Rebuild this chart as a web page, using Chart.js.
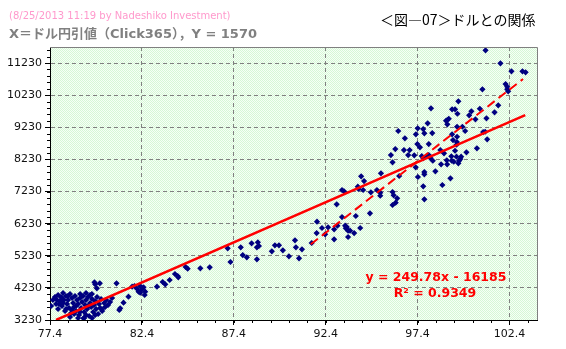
<!DOCTYPE html>
<html>
<head>
<meta charset="utf-8">
<script src="https://cdn.jsdelivr.net/npm/chart.js@4.4.0/dist/chart.umd.min.js"></script>
<style>
  body { margin: 0; background: #fff; }
  #wrap { position: relative; width: 566px; height: 349px; overflow: hidden; }
  #wrap canvas { position: absolute; left: 0; top: 0; }
  .hdr { position: absolute; line-height: 1; white-space: nowrap; }
  #stamp { left: 9px; top: 10px; font: 10px "DejaVu Sans"; color: #ff99cc; }
  #caption { left: 9px; top: 23px; font: bold 13px "DejaVu Sans", "Noto Sans CJK JP"; color: #808080; }
  #fig { left: 380px; top: 9px; font: 14px "Noto Sans CJK JP"; color: #000; }
</style>
</head>
<body>
<div id="wrap">
  <canvas id="grafico" width="566" height="349"></canvas>
  <div class="hdr" id="stamp">(8/25/2013 11:19 by Nadeshiko Investment)</div>
  <div class="hdr" id="caption">X＝ドル円引値（Click365），Y = 1570</div>
  <div class="hdr" id="fig">＜図―07＞ドルとの関係</div>
</div>
<script>
// ejes
const xTicks = [77.4, 82.4, 87.4, 92.4, 97.4, 102.4];
const yTicks = [3230, 4230, 5230, 6230, 7230, 8230, 9230, 10230, 11230];
const xMin = 77.4, xMax = 103.9;
const yMin = 3230, yMax = 11730;

// dolar-yen (x) vs precio (y)
const rateX = [
  77.46, 77.56, 77.67, 77.73, 77.84, 77.84, 77.95, 78.00, 78.05, 78.11, 78.16, 78.22, 78.27, 78.33, 78.38,
  78.44, 78.49, 78.55, 78.60, 78.66, 78.71, 78.76, 78.82, 78.87, 78.93, 78.98, 79.04, 79.09, 79.15, 79.20,
  79.26, 79.31, 79.36, 79.42, 79.47, 79.53, 79.58, 79.64, 79.69, 79.75, 79.80, 79.86, 79.91, 79.96, 80.02,
  80.07, 80.13, 80.18, 80.24, 80.35, 80.40, 80.46, 80.56, 80.67, 80.78, 77.78, 78.11, 78.27, 78.49, 78.71,
  78.93, 79.04, 79.26, 79.36, 79.47, 79.69, 79.86, 78.38, 78.60, 78.82, 79.04, 79.36, 79.58, 77.89, 78.05,
  79.22, 80.22, 79.68, 79.82, 79.86, 80.11, 79.95, 81.02, 81.87, 82.00, 82.13, 82.31, 82.40, 82.49, 82.58,
  82.22, 82.31, 82.55, 81.67, 81.40, 81.22, 81.17, 83.22, 83.53, 83.67, 83.91, 84.20, 84.35, 84.38,
  84.78, 84.89, 85.58, 86.09, 87.07, 87.22, 87.78, 87.89, 88.11, 88.37, 88.66, 88.71, 88.66, 88.77, 89.47,
  89.64, 89.86, 90.07, 90.40, 90.73, 90.78, 90.95, 91.11, 91.64,
  91.93, 92.20, 92.53, 92.86, 93.04, 93.46, 93.50, 93.62, 93.73, 94.28, 91.91, 92.37, 93.62, 93.95, 92.86,
  93.29, 94.04, 94.81, 93.00, 93.55,
  93.29, 93.40, 94.15, 94.19, 94.44, 94.33, 94.49, 94.86, 95.19, 95.37, 95.37, 95.41,
  96.04, 96.10, 96.29, 96.21, 96.04, 96.40, 97.42, 97.77, 97.77, 98.37, 99.19, 97.71, 98.75, 97.77,
  101.10, 101.91, 102.51, 103.11, 103.28, 102.19, 102.28, 102.28, 102.33, 100.93, 99.62, 98.13, 99.28, 99.44, 99.57,
  100.33, 100.21, 100.79, 101.59, 101.79, 99.02, 98.95, 99.10, 99.02, 100.55, 101.15, 97.95, 99.55, 99.84, 97.71,
  97.41, 96.35, 99.99, 100.97, 101.08, 97.31, 97.77, 98.20, 96.71, 99.28, 99.33, 99.55, 101.19, 99.54, 99.52,
  98.01, 96.19, 97.39, 97.53, 96.66, 96.97, 100.63, 98.64, 99.44, 100.06, 96.89, 97.22, 95.95, 97.63, 97.71,
  97.90, 98.01, 98.10, 98.23, 98.84, 99.24, 99.52, 99.77, 98.99, 99.26, 99.37, 99.66, 99.73, 98.68, 99.01,
  99.62, 96.04, 97.30
];
const priceY = [
  3666, 3853, 3946, 3728, 4008, 3572, 3821, 3946, 3666, 4071, 3853, 3510, 3977, 3728, 3853,
  3604, 4039, 3448, 3915, 3759, 3635, 3977, 3510, 3853, 3728, 3386, 3915, 3604, 3790, 3977,
  3479, 3697, 3853, 3572, 3946, 3355, 3759, 3635, 3884, 3479, 3697, 3821, 3572, 3946, 3417,
  3728, 3604, 3884, 3510, 3759, 3635, 3853, 3697, 3790, 3915, 3853, 3759, 3572, 3323, 3417,
  3292, 3479, 3292, 3386, 3666, 3292, 3386, 3977, 3541, 3666, 4039, 4071, 4008, 3728, 3915,
  3283, 3563, 4039, 4404, 4341, 4372, 4217, 4372, 4267, 4288, 4204, 4288, 4186, 4248, 4111,
  4111, 4080, 4008, 3955, 3769, 3594, 3541, 4267, 4413, 4341, 4475, 4662, 4600, 4559,
  4880, 4827, 4839, 4871, 5462, 5036, 5493, 5253, 5182, 5618, 5120, 5649, 5493, 5534, 5369,
  5555, 5555, 5400, 5213, 5711, 5493, 5151, 5431, 5627,
  6290, 6094, 6116, 6053, 6166, 6166, 6085, 6010, 6010, 6094, 5938, 5898, 5814, 5938, 5742,
  6436, 6468, 6552, 6832, 6125,
  7277, 7236, 7380, 7308, 7277, 7703, 7557, 7205, 7277, 7193, 7099, 7797,
  7215, 7112, 7019, 6882, 6810, 7713, 7682, 7837, 7766, 7859, 7641, 7392, 7433, 6987,
  11626, 11221, 10972, 10972, 10941, 10577, 10493, 10412, 10349, 10412, 10038, 9820, 9789, 9789, 9652,
  9727, 9602, 9808, 9696, 9914, 9456, 9434, 9496, 9322, 9478, 9509, 9353, 9247, 9247, 9176,
  9198, 9114, 9114, 9082, 9092, 9011, 9042, 9051, 8886, 9011, 8833, 8936, 8855, 8771, 8687,
  8709, 8553, 8709, 8606, 8522, 8522, 8575, 8522, 8500, 8450, 8366, 8357, 8366, 8335, 8273,
  8335, 8366, 8273, 8189, 8419, 8326, 8314, 8314, 8201, 8189, 8158, 8189, 8242, 8077, 8077,
  8108, 8139, 7984
];

// tendencia lineal (toda la serie)
const slope = 249.78, intercept = -16185, r2 = 0.9349;
const trendX = [77.73, 103.26];
// tendencia del tramo reciente (punteada)
const recentX = [91.59, 103.14];
const recentY = [5587, 10733];

const puntos = rateX.map((x, i) => ({ x: x, y: priceY[i] }));
const lineaTotal = trendX.map(x => ({ x: x, y: slope * x + intercept }));
const lineaReciente = recentX.map((x, i) => ({ x: x, y: recentY[i] }));

// fondo verde punteado
function patronFondo(ctx) {
  const c = document.createElement('canvas');
  c.width = 2; c.height = 2;
  const p = c.getContext('2d');
  p.fillStyle = '#f6fff6';
  p.fillRect(0, 0, 2, 2);
  p.fillStyle = '#d6f7d6';
  p.fillRect(0, 0, 1, 1);
  p.fillRect(1, 1, 1, 1);
  return ctx.createPattern(c, 'repeat');
}

const fondoPlugin = {
  id: 'fondo',
  beforeDraw(chart) {
    const { ctx, chartArea: a } = chart;
    ctx.save();
    ctx.fillStyle = patronFondo(ctx);
    ctx.fillRect(a.left, a.top, a.right - a.left, a.bottom - a.top);
    ctx.restore();
  }
};

// marco gris, marcas menores y la ecuacion
const extrasPlugin = {
  id: 'extras',
  afterDraw(chart) {
    const { ctx, chartArea: a, scales } = chart;
    ctx.save();
    ctx.strokeStyle = '#808080';
    ctx.lineWidth = 1;
    ctx.beginPath();
    ctx.moveTo(a.left, Math.round(a.top) + 0.5);
    ctx.lineTo(Math.round(a.right) + 0.5, Math.round(a.top) + 0.5);
    ctx.lineTo(Math.round(a.right) + 0.5, a.bottom);
    ctx.stroke();

    ctx.strokeStyle = '#000';
    ctx.beginPath();
    for (let v = xMin + 1; v < xMax; v += 1) {
      const px = Math.round(scales.x.getPixelForValue(v)) + 0.5;
      ctx.moveTo(px, a.bottom);
      ctx.lineTo(px, a.bottom + 3);
    }
    for (let v = yMin + 200; v < yMax; v += 200) {
      const py = Math.round(scales.y.getPixelForValue(v)) + 0.5;
      ctx.moveTo(a.left - 3, py);
      ctx.lineTo(a.left, py);
    }
    ctx.stroke();

    ctx.fillStyle = '#ff0000';
    ctx.font = 'bold 12.5px "DejaVu Sans"';
    ctx.textAlign = 'center';
    ctx.textBaseline = 'middle';
    ctx.fillText('y = ' + slope + 'x - ' + Math.abs(intercept),
      scales.x.getPixelForValue(98.4), scales.y.getPixelForValue(4537));
    ctx.fillText('R² = ' + r2,
      scales.x.getPixelForValue(98.35), scales.y.getPixelForValue(4039));
    ctx.restore();
  }
};

const ctxGrafico = document.getElementById('grafico');

let graficoDolar = new Chart(ctxGrafico, {
  type: 'scatter',
  data: {
    datasets: [{
      data: lineaTotal,
      showLine: true,
      borderColor: '#ff0000',
      borderWidth: 2.5,
      pointRadius: 0,
      order: 1
    }, {
      data: lineaReciente,
      showLine: true,
      borderColor: '#ff0000',
      borderWidth: 2,
      borderDash: [9, 5],
      pointRadius: 0,
      order: 1
    }, {
      data: puntos,
      pointStyle: 'rectRot',
      pointRadius: 3.1,
      borderWidth: 0,
      backgroundColor: '#000080',
      borderColor: '#000080',
      order: 2
    }]
  },
  options: {
    responsive: false,
    animation: false,
    devicePixelRatio: 1,
    layout: { padding: { top: 47, right: 29, left: 0, bottom: 0 } },
    plugins: { legend: { display: false }, tooltip: { enabled: false }, title: { display: false } },
    scales: {
      x: {
        type: 'linear',
        min: xMin,
        max: xMax,
        afterBuildTicks: s => { s.ticks = xTicks.map(v => ({ value: v })); },
        afterFit: s => { s.height = 29; },
        ticks: {
          callback: v => v.toFixed(1),
          font: { family: 'DejaVu Sans', size: 11 },
          color: '#111',
          padding: 3,
          maxRotation: 0,
          autoSkip: false
        },
        grid: {
          color: c => (c.tick && c.tick.value === xMin) ? 'rgba(0,0,0,0)' : '#808080',
          lineWidth: 1,
          tickColor: '#000',
          tickLength: 5
        },
        border: { color: '#000', width: 1, dash: [4, 3] }
      },
      y: {
        type: 'linear',
        min: yMin,
        max: yMax,
        afterBuildTicks: s => { s.ticks = yTicks.map(v => ({ value: v })); },
        afterFit: s => { s.width = 50; },
        ticks: {
          callback: v => String(v),
          font: { family: 'DejaVu Sans', size: 11 },
          color: '#111',
          padding: 3,
          autoSkip: false
        },
        grid: {
          color: c => (c.tick && c.tick.value === yMin) ? 'rgba(0,0,0,0)' : '#808080',
          lineWidth: 1,
          tickColor: '#000',
          tickLength: 5
        },
        border: { color: '#000', width: 1, dash: [4, 3] }
      }
    }
  },
  plugins: [fondoPlugin, extrasPlugin]
});
</script>
</body>
</html>
